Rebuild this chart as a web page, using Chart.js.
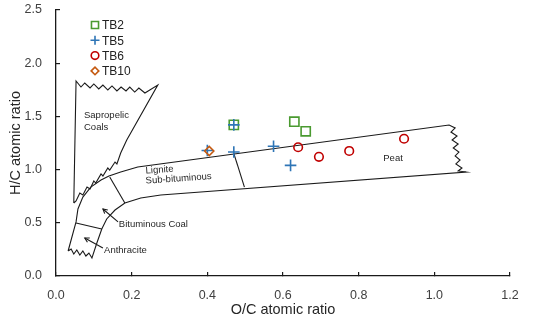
<!DOCTYPE html>
<html>
<head>
<meta charset="utf-8">
<script src="https://cdn.jsdelivr.net/npm/chart.js@4.4.1/dist/chart.umd.min.js"></script>
<style>
  body { margin: 0; background: #fff; }
  #wrap { width: 550px; height: 328px; }
</style>
</head>
<body>
<div id="wrap"><canvas id="chart"></canvas></div>
<script>
// sample points, O/C and H/C atomic ratios
const seriesNames = ['TB2', 'TB5', 'TB6', 'TB10'];
const tb2OC = [0.47, 0.63, 0.66];
const tb2HC = [1.42, 1.45, 1.36];
const tb5OC = [0.40, 0.47, 0.47, 0.575, 0.62];
const tb5HC = [1.18, 1.42, 1.165, 1.22, 1.04];
const tb6OC = [0.64, 0.695, 0.775, 0.92];
const tb6HC = [1.21, 1.12, 1.175, 1.29];
const tb10OC = [0.405];
const tb10HC = [1.175];

const xTicks = [0, 0.2, 0.4, 0.6, 0.8, 1.0, 1.2];
const yTicks = [0, 0.5, 1.0, 1.5, 2.0, 2.5];

// Van Krevelen field outlines, in O/C, H/C
const sapropelic = [
  [0.047, 0.686], [0.053, 1.833],
  [0.066, 1.776], [0.076, 1.814], [0.090, 1.767], [0.100, 1.805], [0.113, 1.758],
  [0.124, 1.795], [0.137, 1.748], [0.148, 1.786], [0.161, 1.739], [0.172, 1.776],
  [0.185, 1.739], [0.195, 1.776], [0.208, 1.729], [0.219, 1.767], [0.235, 1.720],
  [0.269, 1.795], [0.187, 1.278], [0.171, 1.156], [0.161, 1.053],
  [0.156, 1.071], [0.142, 0.996], [0.137, 1.015], [0.124, 0.940], [0.119, 0.959],
  [0.105, 0.874], [0.100, 0.893], [0.090, 0.818], [0.082, 0.836], [0.071, 0.761],
  [0.063, 0.780], [0.053, 0.705], [0.047, 0.686]
];
const coalBand = [
  [0.032, 0.235], [0.053, 0.508], [0.058, 0.630], [0.071, 0.742], [0.092, 0.836],
  [0.119, 0.902], [0.140, 0.940], [0.171, 0.977], [0.216, 1.024], [1.039, 1.419],
  [1.055, 1.391], [1.044, 1.353], [1.060, 1.316], [1.047, 1.278], [1.063, 1.241],
  [1.050, 1.203], [1.065, 1.165], [1.055, 1.128], [1.068, 1.090], [1.057, 1.053],
  [1.073, 1.015], [1.063, 0.987], [1.084, 0.977],
  [0.277, 0.761], [0.224, 0.733], [0.182, 0.686], [0.156, 0.620], [0.134, 0.536],
  [0.121, 0.442], [0.108, 0.310], [0.095, 0.169],
  [0.087, 0.216], [0.079, 0.188], [0.071, 0.235], [0.063, 0.197], [0.055, 0.244],
  [0.047, 0.207], [0.040, 0.254], [0.032, 0.235]
];
const dividers = [
  [[0.053, 0.498], [0.121, 0.442]],
  [[0.142, 0.930], [0.182, 0.686]],
  [[0.469, 1.165], [0.498, 0.836]]
];
// arrows: tail, tip
const arrows = [
  [[0.164, 0.508], [0.124, 0.630]],
  [[0.124, 0.263], [0.076, 0.357]]
];
const fieldNames = ['Sapropelic', 'Coals', 'Lignite', 'Sub-bituminous', 'Bituminous Coal', 'Anthracite', 'Peat'];
const fieldAt = [[0.074, 1.513], [0.074, 1.400], [0.237, 0.987], [0.237, 0.893], [0.166, 0.489], [0.127, 0.244], [0.865, 1.109]];
const fieldTilt = [0, 0, -4, -4, 0, 0, 0];

const colors = ['#4a9a30', '#2e75b6', '#c00000', '#c55a11'];
const styles = ['rect', 'cross', 'circle', 'rectRot'];
const radii = [6.5, 5.8, 4.3, 4.6];

function pairs(xs, ys) {
  return xs.map((v, i) => ({ x: v, y: ys[i] }));
}
function outline(pts) {
  return {
    data: pts.map(p => ({ x: p[0], y: p[1] })),
    showLine: true, pointRadius: 0, borderColor: '#1a1a1a', borderWidth: 1.1,
    tension: 0, fill: false, order: 10
  };
}

const seriesData = [pairs(tb2OC, tb2HC), pairs(tb5OC, tb5HC), pairs(tb6OC, tb6HC), pairs(tb10OC, tb10HC)];
const datasets = [];
seriesNames.forEach((n, i) => {
  datasets.push({
    label: n, data: seriesData[i], pointStyle: styles[i], pointRadius: radii[i],
    borderColor: colors[i], backgroundColor: 'rgba(0,0,0,0)', borderWidth: 1.6,
    showLine: false, order: 4 - i
  });
});
datasets.push(outline(sapropelic));
datasets.push(outline(coalBand));
dividers.forEach(d => datasets.push(outline(d)));
arrows.forEach(a => datasets.push(outline(a)));

const FONT = '"Liberation Sans", Arial, sans-serif';

const decor = {
  id: 'decor',
  afterDraw(chart) {
    const { ctx, scales: { x, y } } = chart;
    ctx.save();
    // arrow heads
    ctx.strokeStyle = '#1a1a1a';
    ctx.lineWidth = 1.1;
    arrows.forEach(a => {
      const x1 = x.getPixelForValue(a[0][0]), y1 = y.getPixelForValue(a[0][1]);
      const x2 = x.getPixelForValue(a[1][0]), y2 = y.getPixelForValue(a[1][1]);
      const ang = Math.atan2(y2 - y1, x2 - x1);
      ctx.beginPath();
      ctx.moveTo(x2 - 5 * Math.cos(ang - 0.5), y2 - 5 * Math.sin(ang - 0.5));
      ctx.lineTo(x2, y2);
      ctx.lineTo(x2 - 5 * Math.cos(ang + 0.5), y2 - 5 * Math.sin(ang + 0.5));
      ctx.stroke();
    });
    // field names
    ctx.font = '9.5px ' + FONT;
    ctx.fillStyle = '#262626';
    ctx.textBaseline = 'middle';
    ctx.textAlign = 'left';
    fieldNames.forEach((t, i) => {
      ctx.save();
      ctx.translate(x.getPixelForValue(fieldAt[i][0]), y.getPixelForValue(fieldAt[i][1]));
      ctx.rotate(fieldTilt[i] * Math.PI / 180);
      ctx.fillText(t, 0, 0);
      ctx.restore();
    });
    // legend inside plot, top left
    const lx = chart.chartArea.left + 39, ly = chart.chartArea.top + 15;
    ctx.font = '12px ' + FONT;
    ctx.fillStyle = '#222';
    seriesNames.forEach((n, i) => {
      const yy = ly + i * 15.3;
      ctx.save();
      ctx.strokeStyle = colors[i];
      ctx.fillStyle = 'rgba(0,0,0,0)';
      ctx.lineWidth = 1.6;
      Chart.helpers.drawPoint(ctx, { pointStyle: styles[i], radius: [5, 4.5, 3.8, 3.8][i], rotation: 0, borderWidth: 1.6 }, lx, yy);
      ctx.restore();
      ctx.fillText(n, lx + 7, yy + 1);
    });
    ctx.restore();
  }
};

new Chart(document.getElementById('chart'), {
  type: 'scatter',
  data: { datasets: datasets },
  options: {
    responsive: true,
    maintainAspectRatio: false,
    animation: false,
    events: [],
    layout: { padding: { left: 0, right: 40, top: 10, bottom: 0 } },
    plugins: { legend: { display: false }, tooltip: { enabled: false } },
    scales: {
      x: {
        type: 'linear', min: xTicks[0], max: xTicks[xTicks.length - 1],
        afterFit: s => { s.height = 52; s.paddingLeft = 0; s.paddingRight = 0; },
        afterBuildTicks: s => { s.ticks = xTicks.map(v => ({ value: v })); },
        border: { color: '#1a1a1a', width: 1.3 },
        grid: { drawOnChartArea: false, drawTicks: true, tickLength: -4, color: '#1a1a1a', lineWidth: 1.2 },
        ticks: { padding: 16, color: '#404040', font: { family: FONT, size: 12.5 }, callback: v => v.toFixed(1) },
        title: { display: true, text: 'O/C atomic ratio', color: '#262626', font: { family: FONT, size: 14.5 }, padding: { top: 0, bottom: 9 } }
      },
      y: {
        type: 'linear', min: yTicks[0], max: yTicks[yTicks.length - 1],
        afterFit: s => { s.width = 56; s.paddingTop = 0; s.paddingBottom = 0; },
        afterBuildTicks: s => { s.ticks = yTicks.map(v => ({ value: v })); },
        border: { color: '#1a1a1a', width: 1.3 },
        grid: { drawOnChartArea: false, drawTicks: true, tickLength: -4, color: '#1a1a1a', lineWidth: 1.2 },
        ticks: { padding: 18, color: '#404040', font: { family: FONT, size: 12.5 }, callback: v => v.toFixed(1) },
        title: { display: true, text: 'H/C atomic ratio', color: '#262626', font: { family: FONT, size: 14.5 }, padding: { top: 7, bottom: 0 } }
      }
    }
  },
  plugins: [decor]
});
</script>
</body>
</html>
